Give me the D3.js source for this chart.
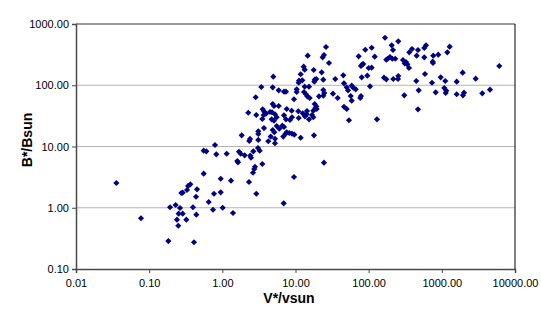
<!DOCTYPE html>
<html>
<head>
<meta charset="utf-8">
<script src="https://cdn.jsdelivr.net/npm/d3@7"></script>
<style>
  body { margin: 0; background: #fff; }
  text { font-family: "Liberation Sans", Arial, sans-serif; }
</style>
</head>
<body>
<script>
// V*/vsun values (x) and matching B*/Bsun values (y)
var vStar = [
  0.0356, 0.0773, 0.183, 0.193, 0.230, 0.264, 0.253, 0.287, 0.240, 0.250,
  0.322, 0.275, 0.287, 0.329, 0.340, 0.365, 0.397, 0.441, 0.410, 0.451,
  0.437, 0.556, 0.651, 0.746, 0.769, 0.950, 0.950, 1.011, 1.314, 1.399,
  2.314, 2.912, 2.624, 2.734, 2.795, 3.517, 0.556, 0.604, 0.827, 1.147,
  1.69, 1.782, 2.021, 1.601, 1.637, 2.411, 2.464, 2.65, 3.241, 3.072,
  0.794, 4.973, 3.409, 2.857, 2.263, 2.912, 3.561, 3.745, 3.676, 3.952,
  3.517, 4.48, 3.710, 3.101, 3.101, 3.101, 2.388, 2.336, 1.839, 4.248,
  26.1, 14.68, 24.5, 23.5, 28.7, 12.94, 13.36, 17.73, 22.8, 11.77,
  11.16, 12.38, 11.06, 18.3, 18.06, 19.24, 23.98, 34.98, 4.880, 5.892,
  6.96, 7.41, 10.38, 10.38, 13.36, 15.29, 13.07, 13.91, 14.5, 15.63,
  23.98, 24.75, 32.5, 37.7, 20.95, 23.98, 9.54, 4.880, 5.083, 5.892,
  4.772, 5.245, 5.532, 7.58, 8.87, 6.96, 7.41, 8.41, 8.95, 10.92,
  12.54, 14.36, 11.06, 18.3, 19.24, 18.64, 19.48, 17.51, 14.22, 13.48,
  16.8, 17.51, 15.29, 4.727, 5.083, 5.532, 6.60, 6.96, 4.880, 5.131,
  4.581, 5.245, 5.245, 6.81, 7.34, 7.58, 8.23, 8.95, 9.63, 6.004,
  11.77, 17.89, 24.5, 9.54, 6.90, 167.2, 254, 206.4, 215.0, 110.0,
  89.9, 73.0, 120.9, 181.9, 195.6, 210.3, 231.1, 174.1, 294.4, 310.7,
  337.2, 355.8, 391, 359.2, 472, 453, 81.8, 78.5, 84.4, 100.1,
  110.0, 80.3, 95.8, 162.0, 174.1, 217.0, 254, 251.6, 447.5, 482.6,
  104.3, 45.0, 46.0, 50.1, 52.2, 58.6, 61.6, 66.5, 56.8, 58.6,
  78.5, 76.8, 46.0, 50.1, 53.8, 129.9, 306.8, 472, 323.7, 607.5,
  575.6, 575.6, 1280, 1187, 764, 894, 750, 757, 6100, 588.5,
  733.6, 964.5, 1115, 1596, 1928, 2901, 824, 1080, 1150, 1129,
  1596, 2008, 1946, 3571, 4550
];
var bStar = [
  2.535, 0.673, 0.286, 1.02, 1.11, 0.99, 0.80, 0.80, 0.638, 0.509,
  0.638, 1.742, 1.762, 1.95, 2.265, 2.415, 1.02, 0.771, 0.273, 2.0,
  1.514, 3.597, 1.242, 0.929, 1.694, 2.979, 1.786, 1.0, 2.767, 0.820,
  2.63, 1.694, 3.733, 4.295, 4.677, 5.176, 8.54, 8.35, 7.46, 7.62,
  8.22, 7.62, 7.18, 5.80, 5.52, 7.08, 6.56, 8.35, 8.54, 9.46,
  10.57, 138.0, 93.6, 63.6, 35.6, 32.7, 40.5, 37.0, 32.7, 34.3,
  28.1, 36.6, 20.0, 17.7, 16.0, 12.8, 13.3, 12.3, 15.2, 12.2,
  421, 303.7, 311.8, 286, 230.8, 200.9, 179.4, 177.4, 162.7, 151.0,
  118.7, 120.4, 110.0, 123.2, 114.3, 126.5, 123.2, 126.5, 92.6, 82.7,
  78.5, 78.5, 85.9, 77.6, 94.7, 94.7, 77.6, 71.2, 66.0, 61.9,
  83.6, 74.7, 72.8, 61.9, 66.0, 67.5, 59.0, 49.4, 45.8, 45.8,
  36.2, 33.6, 30.0, 40.9, 38.4, 32.3, 27.8, 27.1, 30.0, 37.6,
  34.8, 38.0, 29.2, 49.4, 45.3, 42.0, 40.9, 38.4, 33.6, 31.1,
  32.7, 30.0, 27.8, 27.8, 26.4, 21.6, 21.9, 20.8, 18.6, 17.1,
  14.5, 13.4, 11.3, 14.5, 16.2, 17.1, 16.6, 16.2, 15.6, 19.5,
  13.9, 15.2, 5.44, 3.18, 1.18, 597, 522, 449, 376, 410,
  380, 297, 292.6, 271, 289, 271, 271, 261, 258, 228.2,
  219.8, 191.2, 390.7, 345, 376, 303.7, 219.8, 206.2, 222.3, 191.2,
  193.4, 134.8, 143.2, 132.8, 125.1, 126.5, 141.6, 126.5, 117.3, 82.7,
  96.1, 145.3, 107.6, 92.6, 82.7, 98.3, 91.2, 85.9, 66.8, 56.0,
  66.8, 61.9, 44.6, 40.9, 26.8, 27.8, 68.5, 40.5, 239.7, 449,
  405.6, 286, 426, 345, 303.7, 315.3, 242.4, 230.8, 206.2, 152.7,
  110.0, 134.8, 117.3, 114.3, 160.3, 127.9, 76.7, 90.2, 81.5, 74.7,
  71.2, 75.6, 68.5, 73.9, 84.6
];
var xTicks = [0.01, 0.1, 1, 10, 100, 1000, 10000];
var yTicks = [0.1, 1, 10, 100, 1000];

var width = 541,
    height = 316,
    plotLeft = 76, plotRight = 515, plotTop = 24, plotBottom = 269;

var data = vStar.map(function(v, i) { return { v: v, b: bStar[i] }; });

var x = d3.scaleLog().domain([0.01, 10000]).range([plotLeft, plotRight]);
var y = d3.scaleLog().domain([0.1, 1000]).range([plotBottom, plotTop]);

var svg = d3.select("body")
  .append("svg")
  .attr("width", width)
  .attr("height", height);

// horizontal gridlines
svg.selectAll("line.grid")
  .data(yTicks.slice(1, -1))
  .enter()
  .append("line")
  .attr("class", "grid")
  .attr("x1", plotLeft).attr("x2", plotRight)
  .attr("y1", function(d) { return y(d); })
  .attr("y2", function(d) { return y(d); })
  .attr("stroke", "#b4b4b4")
  .attr("stroke-width", 1);

// plot frame: top gray, right black
svg.append("line")
  .attr("x1", plotLeft).attr("x2", plotRight)
  .attr("y1", y(1000)).attr("y2", y(1000))
  .attr("stroke", "#7a7a7a").attr("stroke-width", 1.5);
svg.append("line")
  .attr("x1", plotRight).attr("x2", plotRight)
  .attr("y1", plotTop).attr("y2", plotBottom)
  .attr("stroke", "#000").attr("stroke-width", 1);

var fmt = function(d) { return d.toFixed(2); };

var xAxis = svg.append("g")
  .attr("transform", "translate(0," + plotBottom + ")")
  .call(d3.axisBottom(x).tickValues(xTicks).tickFormat(fmt).tickSize(4).tickPadding(6));

var yAxis = svg.append("g")
  .attr("transform", "translate(" + plotLeft + ",0)")
  .call(d3.axisLeft(y).tickValues(yTicks).tickFormat(fmt).tickSize(4).tickPadding(3));

[xAxis, yAxis].forEach(function(g) {
  g.select(".domain").attr("stroke", "#4a4a4a").attr("stroke-width", 1.5);
  g.selectAll(".tick line").attr("stroke", "#4a4a4a");
  g.selectAll(".tick text")
    .attr("fill", "#000")
    .style("font-family", "'Liberation Sans', Arial, sans-serif")
    .style("font-size", "11px");
});

// points
svg.selectAll("path.pt")
  .data(data)
  .enter()
  .append("path")
  .attr("class", "pt")
  .attr("d", d3.symbol().type(d3.symbolSquare).size(19))
  .attr("transform", function(d) { return "translate(" + x(d.v) + "," + y(d.b) + ") rotate(45)"; })
  .attr("fill", "#000080");

// axis titles
svg.append("text")
  .attr("x", 289)
  .attr("y", 303)
  .attr("text-anchor", "middle")
  .style("font-size", "14px")
  .style("font-weight", "bold")
  .text("V*/vsun");

svg.append("text")
  .attr("transform", "translate(32,140) rotate(-90)")
  .attr("text-anchor", "middle")
  .style("font-size", "14px")
  .style("font-weight", "bold")
  .text("B*/Bsun");
</script>
</body>
</html>
